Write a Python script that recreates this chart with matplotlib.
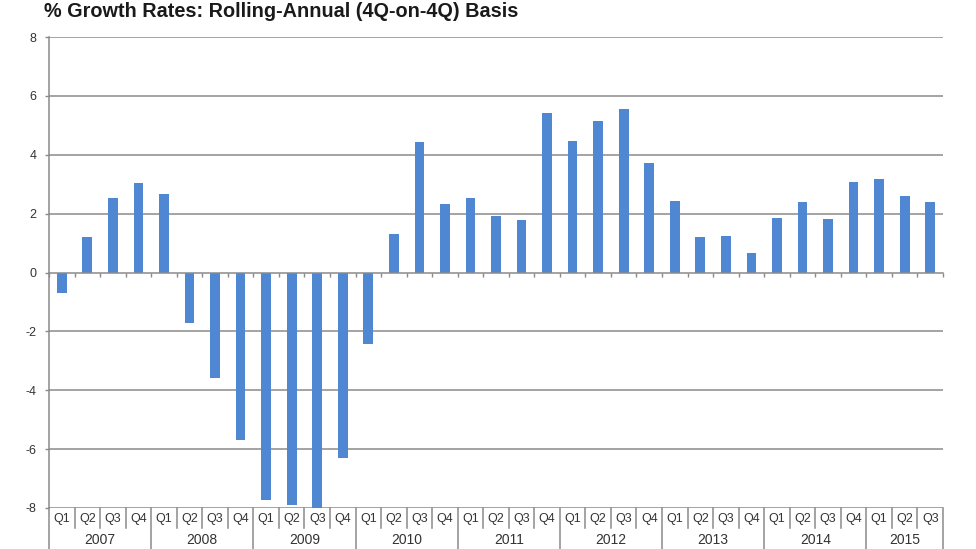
import matplotlib
matplotlib.use("Agg")
import matplotlib.pyplot as plt
import matplotlib.transforms as mtransforms

plt.rcParams['font.family'] = ['Liberation Sans', 'DejaVu Sans']

years = ['2007', '2008', '2009', '2010', '2011', '2012', '2013', '2014', '2015']
quarters = ['Q1', 'Q2', 'Q3', 'Q4']
values = [
    -0.69, 1.21, 2.54, 3.04,     # 2007
    2.67, -1.71, -3.58, -5.70,   # 2008
    -7.72, -7.90, -8.05, -6.30,  # 2009
    -2.44, 1.31, 4.44, 2.31,     # 2010
    2.54, 1.92, 1.79, 5.41,      # 2011
    4.47, 5.14, 5.57, 3.71,      # 2012
    2.43, 1.20, 1.23, 0.67,      # 2013
    1.85, 2.41, 1.81, 3.06,      # 2014
    3.19, 2.59, 2.39,            # 2015
]
title = '% Growth Rates: Rolling-Annual (4Q-on-4Q) Basis'

n = len(values)
q_labels = [quarters[i % 4] for i in range(n)]

fig = plt.figure(figsize=(9.76, 5.49), dpi=100)
ax = fig.add_axes([49/976, 1-508/549, (943-49)/976, (508-37)/549])

text_col = '#333333'
grid_col = '#8a8a8a'
bar_col = '#4F87D3'

ax.bar(range(n), values, width=0.38, color=bar_col, zorder=3, clip_on=True)
ax.set_xlim(-0.5, n - 0.5)
ax.set_ylim(-8, 8)
ax.set_yticks(range(-8, 9, 2))
ax.set_yticklabels([str(v) for v in range(-8, 9, 2)], color=text_col, fontsize=9)
ax.tick_params(axis='y', length=3, width=1, color=grid_col, pad=6)
for y in range(-8, 9, 2):
    if y != 0:
        ax.axhline(y, color=grid_col, lw=1.1, zorder=1)

for s in ['top', 'right']:
    ax.spines[s].set_visible(False)
ax.spines['left'].set_color(grid_col)
ax.spines['left'].set_linewidth(1.1)
ax.spines['bottom'].set_position(('data', 0))
ax.spines['bottom'].set_color(grid_col)
ax.spines['bottom'].set_linewidth(1.1)
ax.spines['bottom'].set_zorder(4)
ax.set_xticks([i - 0.5 for i in range(n + 1)])
ax.set_xticklabels([])
ax.tick_params(axis='x', length=3, width=1, color=grid_col, direction='out')

# category table below the plot
trans = mtransforms.blended_transform_factory(ax.transData, ax.transAxes)
row1 = -20/471
row2 = -60/471
for i in range(n + 1):
    x = i - 0.5
    if i % 4 == 0 or i == n:
        ax.plot([x, x], [0, row2], transform=trans, color=grid_col, lw=1.1, clip_on=False)
    else:
        ax.plot([x, x], [0, row1], transform=trans, color=grid_col, lw=1.1, clip_on=False)
for i, q in enumerate(q_labels):
    ax.text(i, -11/471, q, transform=trans, ha='center', va='center',
            fontsize=9, color=text_col)
for k, yr in enumerate(years):
    start = 4 * k
    end = min(4 * k + 3, n - 1)
    ax.text((start + end) / 2, -32/471, yr, transform=trans, ha='center', va='center',
            fontsize=10, color=text_col)

fig.text(44/976, 1 - 17/549, title, fontsize=14.3, fontweight='bold',
         color='#1a1a1a', va='baseline', ha='left')

fig.savefig('out.png', dpi=100, facecolor='white')
